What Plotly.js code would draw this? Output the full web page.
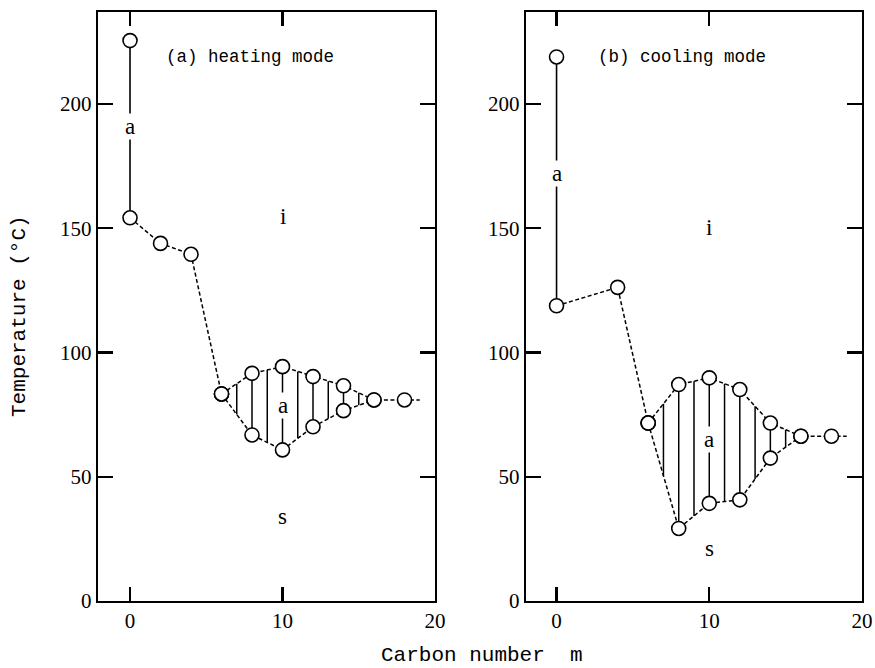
<!DOCTYPE html>
<html>
<head>
<meta charset="utf-8">
<script src="https://cdn.plot.ly/plotly-3.0.1.min.js"></script>
<style>html,body{margin:0;padding:0;background:#fff;}#chart{width:875px;height:668px;}</style>
</head>
<body>
<div id="chart"></div>
<script>
// ---- data ----
// (a) heating mode
const heatTopX = [0];
const heatTopY = [225.5];
const heatMainX = [0, 2, 4, 6];
const heatMainY = [154.2, 143.9, 139.5, 83.3];
const heatUpperX = [6, 8, 10, 12, 14, 16, 18];
const heatUpperY = [83.3, 91.6, 94.3, 90.3, 86.6, 80.9, 80.9];
const heatLowerX = [6, 8, 10, 12, 14, 16];
const heatLowerY = [83.3, 66.8, 60.8, 70.1, 76.6, 80.9];
// (b) cooling mode
const coolTopX = [0];
const coolTopY = [218.9];
const coolMainX = [0, 4, 6];
const coolMainY = [118.8, 126.2, 71.6];
const coolUpperX = [6, 8, 10, 12, 14, 16, 18];
const coolUpperY = [71.6, 87.1, 89.8, 85.1, 71.6, 66.3, 66.3];
const coolLowerX = [6, 8, 10, 12, 14, 16];
const coolLowerY = [71.6, 29.2, 39.3, 40.7, 57.5, 66.3];
// line continues past last point
const tailEndX = 19;
// hatch positions (carbon numbers)
const hatchX = [7, 8, 9, 10, 11, 12, 13, 14, 15];
const yTicks = [0, 50, 100, 150, 200];
const xTicks = [0, 10, 20];

function interp(xs, ys, x) {
  for (let i = 0; i < xs.length - 1; i++) {
    if (x >= xs[i] && x <= xs[i + 1]) {
      const t = (x - xs[i]) / (xs[i + 1] - xs[i]);
      return ys[i] + t * (ys[i + 1] - ys[i]);
    }
  }
  return null;
}

const dashStr = '4px,2.5px';
const lineBlack = {color: '#000', width: 1.5};
const markerOpen = {symbol: 'circle', size: 14, color: '#fff', line: {color: '#000', width: 1.6}};

function panel(xa, ya, topX, topY, mainX, mainY, upX, upY, loX, loY) {
  const tr = [];
  tr.push({x: [topX[0], mainX[0]], y: [topY[0], mainY[0]], xaxis: xa, yaxis: ya,
    mode: 'lines', line: {color: '#000', width: 1.6}, hoverinfo: 'skip'});
  tr.push({x: mainX, y: mainY, xaxis: xa, yaxis: ya, mode: 'lines',
    line: Object.assign({dash: dashStr}, lineBlack), hoverinfo: 'skip'});
  const last = upY[upY.length - 1];
  tr.push({x: upX.concat([tailEndX]), y: upY.concat([last]), xaxis: xa, yaxis: ya, mode: 'lines',
    line: Object.assign({dash: dashStr}, lineBlack), hoverinfo: 'skip'});
  tr.push({x: loX, y: loY, xaxis: xa, yaxis: ya, mode: 'lines',
    line: Object.assign({dash: dashStr}, lineBlack), hoverinfo: 'skip'});
  const hx = [], hy = [];
  hatchX.forEach(function (x) {
    hx.push(x, x, null);
    hy.push(interp(upX, upY, x), interp(loX, loY, x), null);
  });
  tr.push({x: hx, y: hy, xaxis: xa, yaxis: ya, mode: 'lines',
    line: {color: '#000', width: 1.5}, hoverinfo: 'skip', connectgaps: false});
  const mx = topX.concat(mainX, upX, loX);
  const my = topY.concat(mainY, upY, loY);
  tr.push({x: mx, y: my, xaxis: xa, yaxis: ya, mode: 'markers', marker: markerOpen, hoverinfo: 'skip'});
  return tr;
}

const data = [].concat(
  panel('x', 'y', heatTopX, heatTopY, heatMainX, heatMainY, heatUpperX, heatUpperY, heatLowerX, heatLowerY),
  panel('x2', 'y2', coolTopX, coolTopY, coolMainX, coolMainY, coolUpperX, coolUpperY, coolLowerX, coolLowerY)
);

const tickFont = {family: 'Liberation Serif, serif', size: 21, color: '#000'};
function xax(domain, range) {
  return {domain: domain, range: range, tickvals: xTicks, ticktext: xTicks.map(String),
    ticks: 'inside', ticklen: 14, tickwidth: 2.2, tickcolor: '#000',
    showline: true, linewidth: 2.2, linecolor: '#000', mirror: 'ticks',
    showgrid: false, zeroline: false, tickfont: tickFont, fixedrange: true};
}
function yax(anchor) {
  return {domain: [0, 1], range: [0, 237], anchor: anchor, tickvals: yTicks, ticktext: yTicks.map(String),
    ticks: 'inside', ticklen: 15, tickwidth: 2.2, tickcolor: '#000',
    showline: true, linewidth: 2.2, linecolor: '#000', mirror: 'ticks',
    showgrid: false, zeroline: false, tickfont: tickFont, fixedrange: true};
}

const monoFont = {family: 'Liberation Mono, monospace', size: 17.5, color: '#000'};
const letterFont = {family: 'Liberation Serif, serif', size: 23, color: '#000'};
const titleFont = {family: 'Liberation Mono, monospace', size: 21, color: '#000'};

function lab(xref, yref, x, y, text, font, bg) {
  const a = {xref: xref, yref: yref, x: x, y: y, text: text, showarrow: false, font: font,
    xanchor: 'center', yanchor: 'middle'};
  if (bg) { a.bgcolor = '#fff'; a.borderpad = 0; }
  return a;
}

const annotations = [
  lab('x', 'y', 7.86, 219, '(a) heating mode', monoFont),
  lab('x', 'y', 0, 191, 'a', letterFont, true),
  lab('x', 'y', 10, 154.6, 'i', letterFont),
  lab('x', 'y', 10, 78.5, 'a', letterFont, true),
  lab('x', 'y', 10, 33.9, 's', letterFont),
  lab('x2', 'y2', 8.2, 219, '(b) cooling mode', monoFont),
  lab('x2', 'y2', 0, 172, 'a', letterFont, true),
  lab('x2', 'y2', 10, 150.4, 'i', letterFont),
  lab('x2', 'y2', 10, 64.9, 'a', letterFont, true),
  lab('x2', 'y2', 10, 21.1, 's', letterFont),
  {xref: 'paper', yref: 'paper', x: 0.5026, y: -0.0917, text: 'Carbon number  m', showarrow: false,
    font: titleFont, xanchor: 'center', yanchor: 'middle'},
  {xref: 'paper', yref: 'paper', x: -0.102, y: 0.484, text: 'Temperature (°C)', showarrow: false,
    font: titleFont, xanchor: 'center', yanchor: 'middle', textangle: -90}
];

const layout = {
  width: 875, height: 668,
  margin: {l: 98, r: 13, t: 12, b: 67},
  paper_bgcolor: '#fff', plot_bgcolor: '#fff',
  showlegend: false,
  xaxis: Object.assign(xax([0, 0.4411], [-2.1, 20]), {anchor: 'y'}),
  yaxis: yax('x'),
  xaxis2: Object.assign(xax([0.5602, 1], [-2.0, 20]), {anchor: 'y2'}),
  yaxis2: yax('x2'),
  annotations: annotations
};

Plotly.newPlot('chart', data, layout, {displayModeBar: false, staticPlot: true});
</script>
</body>
</html>
